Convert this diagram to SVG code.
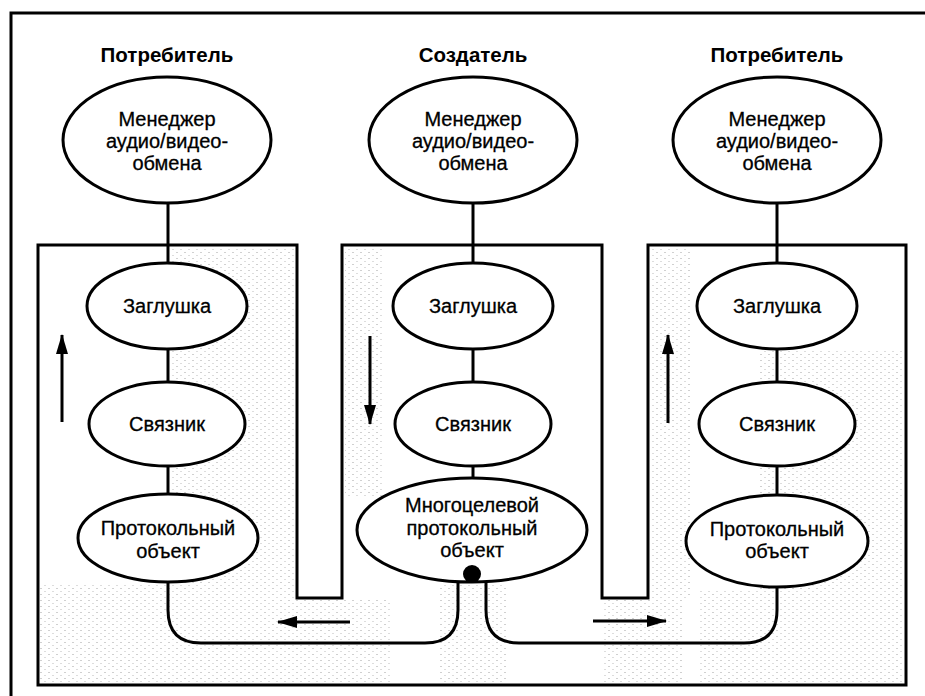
<svg xmlns="http://www.w3.org/2000/svg" width="925" height="696" viewBox="0 0 925 696">
<style>
.bg{fill:#ffffff}
.ln{fill:none;stroke:#000;stroke-width:3}
.el{fill:#fff;stroke:#000;stroke-width:3}
.t{font-family:"Liberation Sans",Arial,sans-serif;font-size:20px;fill:#000;stroke:#000;stroke-width:0.3;text-anchor:middle}
.h{font-family:"Liberation Sans",Arial,sans-serif;font-size:20.5px;font-weight:bold;fill:#000;text-anchor:middle}
.sh{fill:url(#dots)}
.ar{fill:none;stroke:#000;stroke-width:3;marker-end:url(#ah)}
</style>
<defs>
<pattern id="dots" width="8" height="6" patternUnits="userSpaceOnUse">
<rect x="0" y="0" width="2" height="1" fill="#bdbdbd"/>
<rect x="4" y="3" width="2" height="1" fill="#cfcfcf"/>
</pattern>
<marker id="ah" viewBox="0 0 20 12" refX="19" refY="6" markerWidth="20" markerHeight="12" orient="auto" markerUnits="userSpaceOnUse">
<path d="M0,0 L20,6 L0,12 Z" fill="#000"/>
</marker>
</defs>
<rect class="bg" x="0" y="0" width="925" height="696"/>
<g id="shading" opacity="0.7">
<rect class="sh" x="172" y="248" width="123" height="350"/>
<rect class="sh" x="40" y="585" width="260" height="97"/>
<rect class="sh" x="300" y="600" width="90" height="82"/>
<rect class="sh" x="345" y="248" width="38" height="250"/>
<rect class="sh" x="438" y="585" width="70" height="97"/>
<rect class="sh" x="604" y="600" width="80" height="82"/>
<rect class="sh" x="650" y="248" width="40" height="350"/>
<rect class="sh" x="760" y="350" width="144" height="332"/>
<rect class="sh" x="700" y="590" width="60" height="92"/>
</g>
<g id="frame">
<path class="ln" d="M11,696 V13 H925"/>
<path class="ln" d="M38,245 H297 V598 H342 V245 H602 V598 H648 V245 H906 V685 H38 Z"/>
</g>
<g id="connectors">
<line class="ln" x1="168" y1="203" x2="168" y2="263"/>
<line class="ln" x1="168" y1="349" x2="168" y2="382"/>
<line class="ln" x1="168" y1="466" x2="168" y2="495"/>
<line class="ln" x1="473" y1="203" x2="473" y2="263"/>
<line class="ln" x1="473" y1="349" x2="473" y2="382"/>
<line class="ln" x1="473" y1="466" x2="473" y2="478"/>
<line class="ln" x1="777" y1="203" x2="777" y2="263"/>
<line class="ln" x1="777" y1="349" x2="777" y2="382"/>
<line class="ln" x1="777" y1="466" x2="777" y2="495"/>
<path class="ln" d="M168,581 V610 Q168,643 201,643 H425 Q458,643 458,610 V580"/>
<path class="ln" d="M486,580 V610 Q486,643 519,643 H744 Q777,643 777,610 V587"/>
<line class="ar" x1="62" y1="422" x2="62" y2="335"/>
<line class="ar" x1="370" y1="336" x2="370" y2="424"/>
<line class="ar" x1="668" y1="423" x2="668" y2="335"/>
<line class="ar" x1="350" y1="622" x2="278" y2="622"/>
<line class="ar" x1="593" y1="621" x2="666" y2="621"/>
</g>
<g id="label-consumer-left"><text class="h" x="167" y="62">Потребитель</text></g>
<g id="label-creator"><text class="h" x="473" y="62">Создатель</text></g>
<g id="label-consumer-right"><text class="h" x="777" y="62">Потребитель</text></g>
<g id="manager-left">
<ellipse class="el" cx="167" cy="140" rx="104" ry="63"/>
<text class="t" x="167" y="126">Менеджер</text>
<text class="t" x="167" y="148">аудио/видео-</text>
<text class="t" x="167" y="170">обмена</text>
</g>
<g id="manager-center">
<ellipse class="el" cx="473" cy="140" rx="104" ry="63"/>
<text class="t" x="473" y="126">Менеджер</text>
<text class="t" x="473" y="148">аудио/видео-</text>
<text class="t" x="473" y="170">обмена</text>
</g>
<g id="manager-right">
<ellipse class="el" cx="777" cy="140" rx="104" ry="63"/>
<text class="t" x="777" y="126">Менеджер</text>
<text class="t" x="777" y="148">аудио/видео-</text>
<text class="t" x="777" y="170">обмена</text>
</g>
<g id="stub-left">
<ellipse class="el" cx="167" cy="306" rx="80" ry="43"/>
<text class="t" x="167" y="313">Заглушка</text>
</g>
<g id="stub-center">
<ellipse class="el" cx="473" cy="306" rx="80" ry="43"/>
<text class="t" x="473" y="313">Заглушка</text>
</g>
<g id="stub-right">
<ellipse class="el" cx="777" cy="306" rx="80" ry="43"/>
<text class="t" x="777" y="313">Заглушка</text>
</g>
<g id="binder-left">
<ellipse class="el" cx="167" cy="424" rx="78" ry="42"/>
<text class="t" x="167" y="431">Связник</text>
</g>
<g id="binder-center">
<ellipse class="el" cx="473" cy="424" rx="78" ry="42"/>
<text class="t" x="473" y="431">Связник</text>
</g>
<g id="binder-right">
<ellipse class="el" cx="777" cy="424" rx="78" ry="42"/>
<text class="t" x="777" y="431">Связник</text>
</g>
<g id="protocol-left">
<ellipse class="el" cx="168" cy="538" rx="90" ry="44"/>
<text class="t" x="168" y="535">Протокольный</text>
<text class="t" x="168" y="558">объект</text>
</g>
<g id="protocol-multi">
<ellipse class="el" cx="472" cy="530" rx="115" ry="52"/>
<text class="t" x="472" y="512">Многоцелевой</text>
<text class="t" x="472" y="535">протокольный</text>
<text class="t" x="472" y="557">объект</text>
<circle cx="472" cy="574" r="9" fill="#000"/>
</g>
<g id="protocol-right">
<ellipse class="el" cx="777" cy="541" rx="91" ry="46"/>
<text class="t" x="777" y="536">Протокольный</text>
<text class="t" x="777" y="558">объект</text>
</g>
</svg>
